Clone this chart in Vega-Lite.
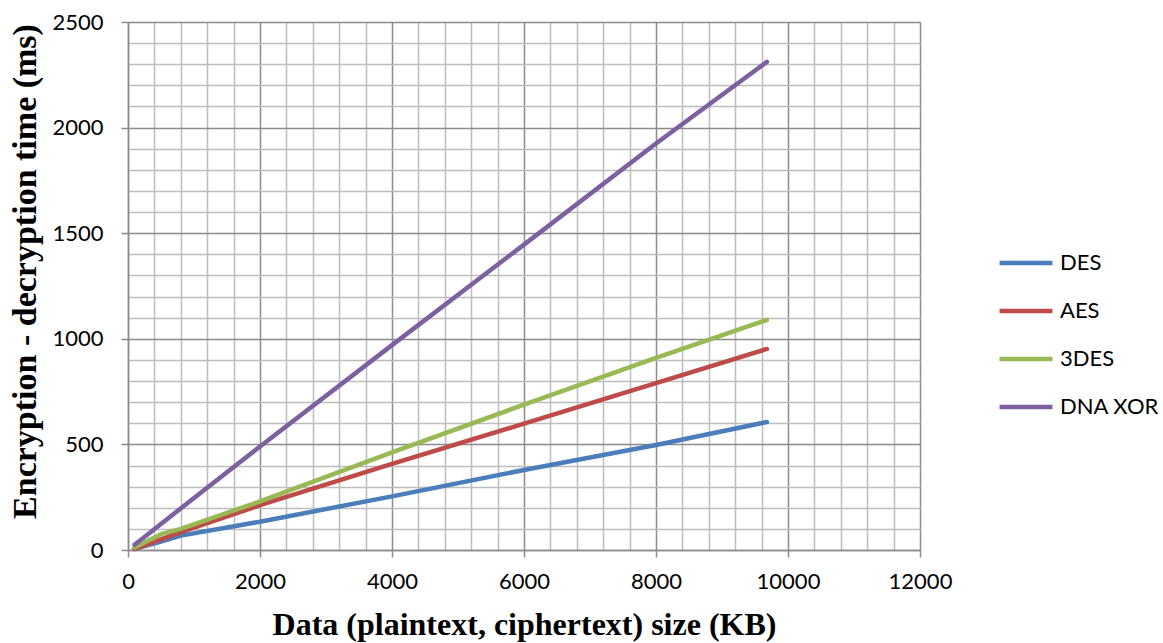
{
  "$schema": "https://vega.github.io/schema/vega-lite/v6.json",
  "autosize": "none",
  "width": 792,
  "height": 528,
  "padding": {"left": 128, "top": 22, "right": 243, "bottom": 93},
  "background": "white",
  "data": {
    "values": [
      {"size": 100, "time": 5, "algo": "DES"},
      {"size": 500, "time": 40, "algo": "DES"},
      {"size": 800, "time": 68, "algo": "DES"},
      {"size": 2000, "time": 134, "algo": "DES"},
      {"size": 4000, "time": 254, "algo": "DES"},
      {"size": 6000, "time": 379, "algo": "DES"},
      {"size": 8000, "time": 497, "algo": "DES"},
      {"size": 9680, "time": 606, "algo": "DES"},
      {"size": 100, "time": 5, "algo": "AES"},
      {"size": 500, "time": 50, "algo": "AES"},
      {"size": 800, "time": 85, "algo": "AES"},
      {"size": 2000, "time": 212, "algo": "AES"},
      {"size": 4000, "time": 408, "algo": "AES"},
      {"size": 6000, "time": 598, "algo": "AES"},
      {"size": 8000, "time": 790, "algo": "AES"},
      {"size": 9680, "time": 952, "algo": "AES"},
      {"size": 100, "time": 12, "algo": "3DES"},
      {"size": 500, "time": 75, "algo": "3DES"},
      {"size": 800, "time": 100, "algo": "3DES"},
      {"size": 2000, "time": 230, "algo": "3DES"},
      {"size": 4000, "time": 462, "algo": "3DES"},
      {"size": 6000, "time": 688, "algo": "3DES"},
      {"size": 8000, "time": 910, "algo": "3DES"},
      {"size": 9680, "time": 1089, "algo": "3DES"},
      {"size": 100, "time": 25, "algo": "DNA XOR"},
      {"size": 600, "time": 148, "algo": "DNA XOR"},
      {"size": 1170, "time": 288, "algo": "DNA XOR"},
      {"size": 2000, "time": 490, "algo": "DNA XOR"},
      {"size": 4000, "time": 970, "algo": "DNA XOR"},
      {"size": 6000, "time": 1446, "algo": "DNA XOR"},
      {"size": 8000, "time": 1925, "algo": "DNA XOR"},
      {"size": 9680, "time": 2311, "algo": "DNA XOR"}
    ]
  },
  "mark": {"type": "line", "strokeWidth": 4.5, "strokeCap": "round", "strokeJoin": "round"},
  "encoding": {
    "x": {
      "field": "size", "type": "quantitative",
      "scale": {"domain": [0, 12000], "nice": false},
      "axis": {
        "title": "Data (plaintext, ciphertext) size (KB)",
        "values": [0,400,800,1200,1600,2000,2400,2800,3200,3600,4000,4400,4800,5200,5600,6000,6400,6800,7200,7600,8000,8400,8800,9200,9600,10000,10400,10800,11200,11600,12000],
        "format": "d",
        "labelExpr": "datum.value % 2000 === 0 ? datum.label : ''",
        "grid": true,
        "gridColor": {"condition": {"test": "datum.value % 2000 === 0", "value": "#8c8c8c"}, "value": "#bdbdbd"},
        "gridWidth": 1.5,
        "gridOpacity": 1,
        "tickColor": {"condition": {"test": "datum.value % 2000 === 0", "value": "#8c8c8c"}, "value": "transparent"},
        "tickSize": 7,
        "tickWidth": 1.5,
        "domainColor": "#8c8c8c",
        "domainWidth": 1.5,
        "labelFont": "Lato",
        "labelFontSize": 22,
        "labelColor": "#000000",
        "labelPadding": 14,
        "labelFlush": false,
        "labelOverlap": false,
        "titleFont": "Liberation Serif",
        "titleFontWeight": "bold",
        "titleFontSize": 32,
        "titleColor": "#000000",
        "titlePadding": 17
      }
    },
    "y": {
      "field": "time", "type": "quantitative",
      "scale": {"domain": [0, 2500], "nice": false},
      "axis": {
        "title": "Encryption - decryption time (ms)",
        "values": [0,100,200,300,400,500,600,700,800,900,1000,1100,1200,1300,1400,1500,1600,1700,1800,1900,2000,2100,2200,2300,2400,2500],
        "format": "d",
        "labelExpr": "datum.value % 500 === 0 ? datum.label : ''",
        "grid": true,
        "gridColor": {"condition": {"test": "datum.value % 500 === 0", "value": "#8c8c8c"}, "value": "#bdbdbd"},
        "gridWidth": 1.5,
        "gridOpacity": 1,
        "tickColor": {"condition": {"test": "datum.value % 500 === 0", "value": "#8c8c8c"}, "value": "transparent"},
        "tickSize": 7,
        "tickWidth": 1.5,
        "domainColor": "#8c8c8c",
        "domainWidth": 1.5,
        "labelFont": "Lato",
        "labelFontSize": 22,
        "labelColor": "#000000",
        "labelPadding": 18,
        "labelFlush": false,
        "labelOverlap": false,
        "titleFont": "Liberation Serif",
        "titleFontWeight": "bold",
        "titleFontSize": 34,
        "titleColor": "#000000",
        "titleX": -103,
        "titleY": 249,
        "titleBaseline": "middle"
      }
    },
    "color": {
      "field": "algo", "type": "nominal",
      "scale": {"domain": ["DES", "AES", "3DES", "DNA XOR"], "range": ["#4a7ebb", "#be4b48", "#98b954", "#7d60a0"]},
      "legend": {
        "title": null,
        "orient": "none",
        "legendX": 869,
        "legendY": 212,
        "symbolType": "stroke",
        "symbolSize": 2800,
        "symbolStrokeWidth": 4.5,
        "labelFont": "Lato",
        "labelFontSize": 22,
        "labelColor": "#000000",
        "labelOffset": 5,
        "rowPadding": 8,
        "padding": 0
      }
    }
  },
  "config": {
    "view": {"stroke": null}
  }
}
